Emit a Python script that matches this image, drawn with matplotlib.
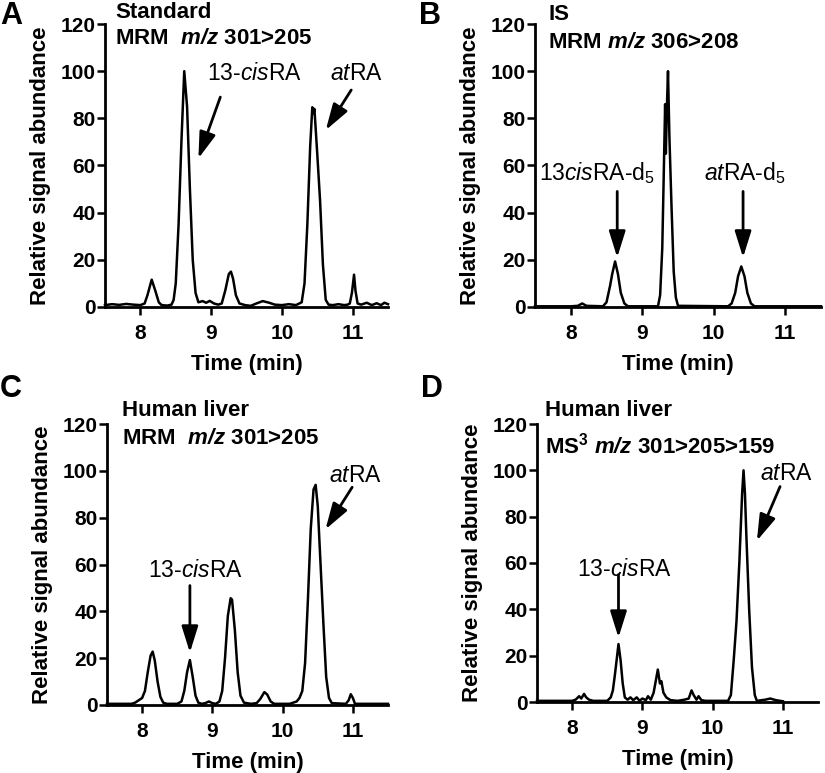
import matplotlib
matplotlib.use('Agg')
import matplotlib.pyplot as plt

plt.rcParams['font.family'] = ['Liberation Sans', 'DejaVu Sans']
plt.rcParams['mathtext.fontset'] = 'custom'
plt.rcParams['mathtext.rm'] = 'Liberation Sans'
plt.rcParams['mathtext.it'] = 'Liberation Sans:italic'
plt.rcParams['mathtext.bf'] = 'Liberation Sans:bold'
plt.rcParams['mathtext.bfit'] = 'Liberation Sans:italic:bold'

# ---- chromatogram traces (time in min, relative abundance) ----
time_a = [7.50, 7.60, 7.70, 7.80, 7.90, 8.00, 8.06, 8.10, 8.16, 8.21,
          8.26, 8.30, 8.38, 8.44, 8.47, 8.50, 8.54, 8.58, 8.62, 8.66,
          8.70, 8.74, 8.78, 8.82, 8.88, 8.93, 8.98, 9.04, 9.10, 9.15,
          9.20, 9.25, 9.28, 9.31, 9.35, 9.40, 9.48, 9.56, 9.64, 9.73,
          9.82, 9.90, 10.00, 10.10, 10.20, 10.28, 10.32, 10.36, 10.40, 10.43,
          10.445, 10.46, 10.50, 10.54, 10.58, 10.62, 10.66, 10.72, 10.80, 10.88,
          10.93, 10.96, 10.99, 11.02, 11.04, 11.07, 11.12, 11.20, 11.27, 11.34,
          11.40, 11.45, 11.50]
signal_a = [0.8, 1.2, 0.9, 1.3, 1.0, 0.8, 1.5, 5.0, 11.6, 7.0,
            2.0, 0.8, 0.6, 1.0, 3.0, 10.0, 35.0, 70.0, 100.0, 85.0,
            50.0, 20.0, 6.0, 2.0, 2.5, 1.8, 2.6, 1.5, 1.0, 1.5,
            7.0, 14.0, 15.0, 12.0, 5.0, 1.5, 0.8, 0.5, 1.5, 2.5,
            1.8, 1.0, 0.8, 1.2, 0.8, 2.0, 10.0, 35.0, 68.0, 84.7,
            82.0, 84.0, 65.0, 45.0, 18.0, 3.0, 1.0, 0.8, 1.2, 0.8,
            1.0, 1.5, 6.0, 13.7, 7.0, 1.5, 1.0, 1.8, 0.8, 1.6,
            0.8, 1.8, 1.2]

time_b = [7.50, 8.00, 8.10, 8.16, 8.22, 8.45, 8.50, 8.55, 8.58, 8.62,
          8.66, 8.70, 8.75, 8.80, 9.15, 9.22, 9.25, 9.28, 9.30, 9.32,
          9.33, 9.345, 9.36, 9.38, 9.41, 9.44, 9.47, 9.50, 10.20, 10.25,
          10.30, 10.34, 10.385, 10.43, 10.47, 10.52, 10.57, 11.50]
signal_b = [0.3, 0.3, 0.5, 1.5, 0.5, 0.3, 2.0, 9.0, 14.0, 19.3,
            14.0, 6.0, 1.5, 0.3, 0.3, 0.3, 5.0, 25.0, 55.0, 86.0,
            65.0, 85.0, 100.0, 72.0, 42.0, 15.0, 4.0, 0.5, 0.3, 1.5,
            6.0, 13.0, 17.2, 13.0, 6.0, 1.5, 0.3, 0.3]

time_c = [7.50, 7.85, 7.90, 7.95, 8.00, 8.04, 8.08, 8.12, 8.15, 8.18,
          8.22, 8.26, 8.30, 8.35, 8.50, 8.56, 8.60, 8.64, 8.68, 8.72,
          8.76, 8.80, 8.85, 8.90, 8.95, 9.00, 9.05, 9.10, 9.14, 9.18,
          9.22, 9.26, 9.28, 9.32, 9.36, 9.40, 9.45, 9.55, 9.63, 9.68,
          9.74, 9.78, 9.83, 9.88, 10.10, 10.20, 10.24, 10.28, 10.32, 10.36,
          10.40, 10.44, 10.47, 10.50, 10.54, 10.58, 10.62, 10.66, 10.70, 10.90,
          10.94, 10.97, 11.00, 11.03, 11.50]
signal_c = [0.5, 0.5, 1.0, 2.0, 3.0, 6.0, 14.0, 21.0, 22.8, 19.0,
            10.0, 3.5, 1.0, 0.5, 0.5, 1.5, 6.0, 14.0, 19.2, 12.0,
            4.0, 1.0, 0.5, 0.8, 1.5, 0.8, 0.5, 1.5, 6.0, 20.0,
            38.0, 45.6, 45.0, 32.0, 14.0, 4.0, 1.0, 0.5, 0.8, 2.5,
            5.5, 4.5, 1.5, 0.5, 0.5, 1.5, 3.0, 6.0, 18.0, 45.0,
            75.0, 92.0, 94.0, 85.0, 60.0, 35.0, 12.0, 3.0, 0.8, 0.5,
            2.0, 4.6, 3.0, 0.5, 0.5]

time_d = [7.50, 8.00, 8.05, 8.10, 8.13, 8.17, 8.20, 8.24, 8.30, 8.50,
          8.55, 8.58, 8.61, 8.66, 8.69, 8.72, 8.75, 8.79, 8.83, 8.87,
          8.92, 8.96, 9.00, 9.05, 9.08, 9.12, 9.16, 9.22, 9.25, 9.27,
          9.30, 9.34, 9.40, 9.50, 9.60, 9.66, 9.70, 9.73, 9.77, 9.80,
          9.84, 9.90, 10.22, 10.26, 10.30, 10.34, 10.38, 10.42, 10.44, 10.46,
          10.48, 10.52, 10.56, 10.60, 10.63, 10.75, 10.82, 10.90, 11.00]
signal_d = [0.5, 0.5, 1.0, 2.5, 1.5, 3.5, 2.0, 1.0, 0.5, 0.5,
            2.0, 5.0, 12.0, 25.0, 18.0, 8.0, 2.0, 1.0, 2.0, 0.8,
            2.0, 0.5, 1.5, 0.8, 2.5, 1.0, 4.0, 14.0, 8.0, 9.0,
            4.0, 2.0, 0.8, 0.5, 1.0, 1.5, 5.0, 3.0, 1.0, 2.5,
            0.8, 0.5, 0.5, 3.0, 18.0, 35.0, 60.0, 90.0, 100.0, 90.0,
            72.0, 40.0, 15.0, 3.0, 0.5, 1.0, 1.5, 0.8, 0.3]

x_ticks = [8, 9, 10, 11]
y_ticks = [0, 20, 40, 60, 80, 100, 120]

W, H = 825, 773


def px(x, y):
    return x / W, 1 - y / H


def make_axes(fig, left, top, right, bottom):
    l, t = px(left, top)
    r, b = px(right, bottom)
    ax = fig.add_axes([l, b, r - l, t - b])
    ax.set_xlim(7.5, 11.5)
    ax.set_ylim(0, 120)
    ax.set_xticks(x_ticks)
    ax.set_yticks(y_ticks)
    for side in ['top', 'right']:
        ax.spines[side].set_visible(False)
    for side in ['left', 'bottom']:
        ax.spines[side].set_linewidth(2)
    ax.tick_params(direction='out', length=5.5, width=1.8, labelsize=15)
    ax.tick_params(axis='x', pad=7)
    ax.tick_params(axis='y', pad=1)
    for lab in ax.get_xticklabels() + ax.get_yticklabels():
        lab.set_fontweight('bold')
    ax.set_xlabel('Time (min)', fontsize=16, fontweight='bold', labelpad=8)
    ax.set_ylabel('Relative signal abundance', fontsize=16, fontweight='bold', labelpad=7)
    return ax


def arrow(ax, tail, tip):
    ax.annotate('', xy=tip, xytext=tail,
                arrowprops=dict(arrowstyle='-|>,head_length=0.8,head_width=0.25',
                                mutation_scale=20, lw=2, color='black',
                                shrinkA=0, shrinkB=0))


fig = plt.figure(figsize=(8.25, 7.73), dpi=100)

# panel A
ax = make_axes(fig, 105, 24, 388, 307)
ax.plot(time_a, signal_a, color='black', lw=1.8, clip_on=False)
ax.text(9.61, 98.8, '13-$\\mathit{cis}$RA', fontsize=16.5, ha='center', va='center')
ax.text(11.05, 98.8, '$\\mathit{at}$RA', fontsize=16.5, ha='center', va='center')
arrow(ax, (9.13, 89), (8.82, 63))
arrow(ax, (10.98, 92), (10.62, 75))
fig.text(*px(115, 12), 'Standard', fontsize=16, fontweight='bold', va='center')
fig.text(*px(115, 39), 'MRM  $\\mathbfit{m/z}$ 301>205', fontsize=16, fontweight='bold', va='center')
fig.text(*px(0, 16), 'A', fontsize=22, fontweight='bold', va='center')

# panel B
ax = make_axes(fig, 535, 24, 821, 307)
ax.plot(time_b, signal_b, color='black', lw=1.8, clip_on=False)
ax.text(8.36, 57, '13$\\mathit{cis}$RA-d$_5$', fontsize=16.5, ha='center', va='center')
ax.text(10.44, 57, '$\\mathit{at}$RA-d$_5$', fontsize=16.5, ha='center', va='center')
arrow(ax, (8.65, 49), (8.65, 21))
arrow(ax, (10.41, 49), (10.41, 21))
fig.text(*px(548, 15), 'IS', fontsize=16, fontweight='bold', va='center')
fig.text(*px(548, 43), 'MRM $\\mathbfit{m/z}$ 306>208', fontsize=16, fontweight='bold', va='center')
fig.text(*px(419, 16), 'B', fontsize=22, fontweight='bold', va='center')

# panel C
ax = make_axes(fig, 107, 424, 388, 705)
ax.plot(time_c, signal_c, color='black', lw=1.8, clip_on=False)
ax.text(8.76, 57.3, '13-$\\mathit{cis}$RA', fontsize=16.5, ha='center', va='center')
ax.text(11.04, 98.2, '$\\mathit{at}$RA', fontsize=16.5, ha='center', va='center')
arrow(ax, (8.68, 51), (8.68, 22.4))
arrow(ax, (10.99, 93), (10.61, 75))
fig.text(*px(122, 411), 'Human liver', fontsize=16, fontweight='bold', va='center')
fig.text(*px(122, 438), 'MRM  $\\mathbfit{m/z}$ 301>205', fontsize=16, fontweight='bold', va='center')
fig.text(*px(0, 389), 'C', fontsize=22, fontweight='bold', va='center')

# panel D
ax = make_axes(fig, 537, 424, 818, 702)
ax.plot(time_d, signal_d, color='black', lw=1.8, clip_on=False)
ax.text(8.74, 57, '13-$\\mathit{cis}$RA', fontsize=16.5, ha='center', va='center')
ax.text(11.05, 98.8, '$\\mathit{at}$RA', fontsize=16.5, ha='center', va='center')
arrow(ax, (8.66, 55), (8.66, 27.8))
arrow(ax, (10.96, 93), (10.63, 69.6))
fig.text(*px(545, 411), 'Human liver', fontsize=16, fontweight='bold', va='center')
fig.text(*px(545, 446), 'MS$^{\\mathbf{3}}$ $\\mathbfit{m/z}$ 301>205>159', fontsize=16,
         fontweight='bold', va='center')
fig.text(*px(421, 389), 'D', fontsize=22, fontweight='bold', va='center')

fig.savefig('out.png', dpi=100)
